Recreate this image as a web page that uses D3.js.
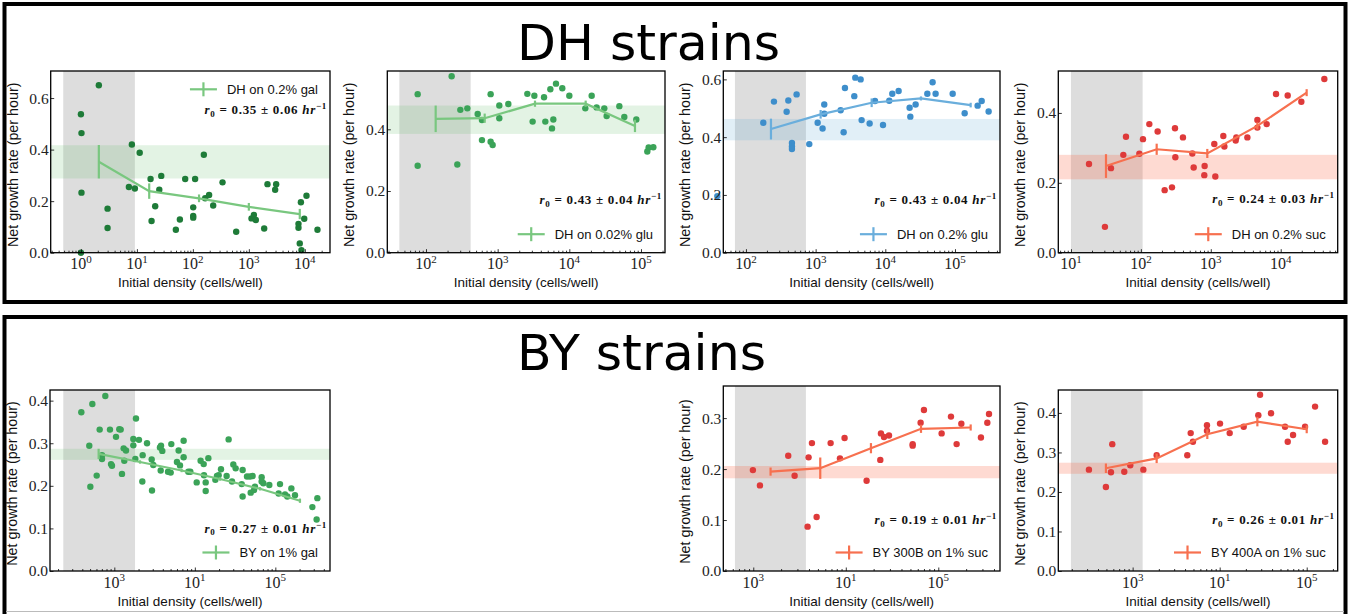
<!DOCTYPE html>
<html><head><meta charset="utf-8">
<script src="https://cdn.jsdelivr.net/npm/d3@7"></script>
<style>body{margin:0;background:#fff}svg{display:block}</style>
</head><body><svg id="c" width="1350" height="614"></svg>
<script>
// ---------------- DATA ----------------
const sectionTitles = ["DH strains", "BY strains"];
const panelLabels = ["DH on 0.2% gal", "DH on 0.02% glu", "DH on 0.2% glu", "DH on 0.2% suc",
  "BY on 1% gal", "BY 300B on 1% suc", "BY 400A on 1% suc"];
const r0Values = [0.35, 0.43, 0.43, 0.24, 0.27, 0.19, 0.26];
const r0Errors = [0.06, 0.04, 0.04, 0.03, 0.01, 0.01, 0.01];
const yAxisLabel = "Net growth rate (per hour)";
const xAxisLabel = "Initial density (cells/well)";

// x ranges given as log10(density)
const xDomainsLog = [[-0.54, 4.45], [1.46, 5.335], [1.675, 5.646], [0.819, 4.815], [2.201, 5.679], [2.676, 5.667], [2.146, 5.356]];
const yMax = [0.705, 0.589, 0.629, 0.52, 0.425, 0.363, 0.458];
const grayRegionLog = [[-0.316, 0.964], [1.628, 2.623], [1.842, 2.861], [1.0, 2.025], [2.366, 3.257], [2.802, 3.569], [2.291, 3.115]];
const bandLow = [0.288, 0.385, 0.389, 0.21, 0.261, 0.182, 0.246];
const bandHigh = [0.417, 0.477, 0.463, 0.28, 0.287, 0.206, 0.274];

const yTicks = [[0, 0.2, 0.4, 0.6], [0, 0.2, 0.4], [0, 0.2, 0.4, 0.6], [0, 0.2, 0.4],
  [0, 0.1, 0.2, 0.3, 0.4], [0, 0.1, 0.2, 0.3], [0, 0.1, 0.2, 0.3, 0.4]];
const xTickDecades = [[0, 1, 2, 3, 4], [2, 3, 4, 5], [2, 3, 4, 5], [1, 2, 3, 4], [3, 4, 5], [3, 4, 5], [3, 4, 5]];
const xTickExponentLabels = [["0", "1", "2", "3", "4"], ["2", "3", "4", "5"], ["2", "3", "4", "5"], ["1", "2", "3", "4"],
  ["3", "1", "5"], ["3", "1", "5"], ["3", "1", "5"]];

// scatter points: log10(density), growth rate
const dhGalLogX = [0.32,0.0,0.01,0.01,0.0,0.476,0.476,0.91,1.05,0.857,0.964,1.244,1.435,1.40,1.327,1.262,1.696,1.768,1.863,2.04,2.006,2.006,2.006,2.196,2.22,2.29,2.363,2.53,2.774,3.048,3.09,3.125,3.274,3.333,3.488,3.47,3.887,3.887,3.93,3.91,3.94,3.99,4.03,4.226];
const dhGalY = [0.65,0.537,0.464,0.233,0.0,0.171,0.096,0.42,0.388,0.255,0.249,0.286,0.298,0.244,0.18,0.123,0.089,0.129,0.286,0.286,0.176,0.143,0.136,0.38,0.211,0.224,0.183,0.273,0.081,0.133,0.146,0.127,0.094,0.266,0.266,0.244,0.112,0.097,0.196,0.036,0.01,0.132,0.221,0.089];

const dhGlu002LogX = [1.884,1.884,2.358,2.437,2.479,2.577,2.721,2.781,2.781,2.902,2.93,2.902,3.023,3.023,3.149,3.414,3.488,3.512,3.647,3.665,3.735,3.758,3.777,3.814,3.902,4.0,4.223,4.312,4.381,4.488,4.521,4.698,4.767,4.935,5.088,5.107,5.172];
const dhGlu002Y = [0.514,0.282,0.572,0.286,0.463,0.468,0.45,0.43,0.365,0.36,0.349,0.514,0.477,0.436,0.482,0.515,0.425,0.509,0.504,0.425,0.53,0.403,0.432,0.548,0.533,0.509,0.468,0.509,0.471,0.468,0.443,0.475,0.44,0.432,0.328,0.341,0.342];

const dhGlu02LogX = [1.589,2.249,2.402,2.584,2.608,2.66,2.66,2.66,2.727,2.909,3.029,3.1,3.124,3.124,3.359,3.402,3.421,3.555,3.569,3.646,3.66,3.775,3.852,3.967,4.057,4.1,4.191,4.349,4.359,4.435,4.603,4.679,4.722,4.967,5.139,5.325,5.383,5.483];
const dhGlu02Y = [0.196,0.45,0.523,0.488,0.527,0.38,0.368,0.359,0.548,0.376,0.45,0.43,0.513,0.481,0.493,0.417,0.57,0.542,0.606,0.6,0.459,0.447,0.525,0.442,0.526,0.55,0.56,0.502,0.471,0.513,0.55,0.59,0.55,0.55,0.483,0.509,0.525,0.489];

const dhSucLogX = [1.258,1.486,1.572,1.749,1.787,1.978,2.03,2.121,2.24,2.34,2.445,2.488,2.493,2.602,2.736,2.755,2.912,2.907,3.065,3.05,3.179,3.194,3.356,3.365,3.523,3.666,3.666,3.799,3.933,4.1,4.295,4.624];
const dhSucY = [0.254,0.074,0.242,0.28,0.332,0.283,0.325,0.368,0.347,0.179,0.187,0.356,0.273,0.33,0.284,0.244,0.248,0.222,0.218,0.311,0.334,0.304,0.321,0.33,0.33,0.38,0.358,0.368,0.454,0.45,0.432,0.497];

const byGalLogX = [2.59,2.727,2.888,2.689,2.818,2.946,3.062,3.079,3.021,2.781,2.702,2.847,2.847,2.959,2.971,3.095,3.116,3.145,3.124,3.236,3.269,3.236,3.261,3.306,3.352,3.348,3.406,3.464,3.468,3.484,3.567,3.58,3.596,3.576,3.667,3.708,3.7,3.778,3.799,3.816,3.861,3.861,3.919,3.944,4.023,4.072,4.11,4.114,4.135,4.168,4.135,4.255,4.275,4.296,4.325,4.395,4.42,4.462,4.478,4.507,4.582,4.594,4.648,4.685,4.694,4.718,4.735,4.747,4.83,4.851,4.925,5.058,5.041,5.12,5.149,5.199,5.244,5.46,5.513,5.522,4.83,4.594];
const byGalY = [0.3726,0.392,0.411,0.294,0.332,0.332,0.333,0.332,0.315,0.224,0.198,0.272,0.263,0.251,0.247,0.228,0.288,0.283,0.259,0.31,0.358,0.295,0.263,0.308,0.272,0.21,0.3,0.262,0.189,0.249,0.29,0.294,0.282,0.236,0.233,0.298,0.231,0.256,0.283,0.248,0.306,0.267,0.233,0.233,0.208,0.259,0.251,0.225,0.208,0.265,0.188,0.214,0.223,0.225,0.239,0.223,0.309,0.21,0.25,0.241,0.204,0.237,0.222,0.222,0.184,0.223,0.19,0.198,0.22,0.206,0.202,0.204,0.182,0.18,0.175,0.194,0.178,0.15,0.121,0.171,0.21,0.175];

const by300LogX = [2.996,3.072,3.378,3.447,3.587,3.685,3.598,3.634,3.836,3.937,3.987,4.225,4.373,4.38,4.413,4.467,4.723,4.723,4.809,4.845,5.036,5.137,5.198,5.249,5.461,5.53,5.548];
const by300Y = [0.198,0.168,0.226,0.187,0.087,0.106,0.223,0.251,0.251,0.221,0.261,0.177,0.218,0.27,0.263,0.266,0.249,0.246,0.291,0.316,0.27,0.303,0.249,0.289,0.262,0.291,0.308];

const by400LogX = [2.498,2.693,2.751,2.766,2.904,2.973,3.123,3.276,3.628,3.667,3.693,3.854,3.854,4.004,4.115,4.276,4.444,4.464,4.59,4.751,4.782,4.843,4.981,5.096,5.211];
const by400Y = [0.2565,0.2127,0.25,0.321,0.251,0.2675,0.2565,0.293,0.293,0.349,0.327,0.369,0.355,0.373,0.349,0.365,0.394,0.446,0.399,0.365,0.327,0.344,0.365,0.416,0.327];

// binned means with error bars: log10(density), mean, error
const fitLogX = [[0.32,1.22,2.11,3.0,3.91],[2.135,2.819,3.521,4.228,4.916],[2.359,3.072,3.804,4.512,5.225],[1.501,2.226,2.95,3.666,4.371],
  [2.805,3.319,3.836,4.313,4.81,5.306],[3.187,3.724,4.272,4.813,5.35],[2.693,3.276,3.858,4.433,5.0]];
const fitY = [[0.353,0.239,0.211,0.178,0.150],[0.434,0.436,0.483,0.483,0.411],[0.428,0.479,0.519,0.534,0.511],[0.248,0.296,0.284,0.363,0.458],
  [0.275,0.256,0.236,0.216,0.193,0.165],[0.195,0.2017,0.241,0.279,0.2816],[0.26,0.285,0.346,0.378,0.3586]];
const fitErr = [[0.065,0.03,0.015,0.015,0.02],[0.043,0.015,0.01,0.01,0.02],[0.036,0.015,0.015,0.007,0.008],[0.034,0.016,0.013,0.01,0.01],
  [0.012,0.004,0.004,0.004,0.004,0.005],[0.008,0.021,0.01,0.008,0.006],[0.012,0.012,0.012,0.012,0.01]];

const pointsLogX = [dhGalLogX, dhGlu002LogX, dhGlu02LogX, dhSucLogX, byGalLogX, by300LogX, by400LogX];
const pointsY = [dhGalY, dhGlu002Y, dhGlu02Y, dhSucY, byGalY, by300Y, by400Y];

// ---------------- LAYOUT / STYLE ----------------
const plotBoxes = [[50.7,71,330,252.7],[387.3,71,665,252.7],[723.3,71,1000,252.7],[1058.3,71,1337.7,252.7],
  [50,390,330,571],[723.3,386,1000,571],[1058.3,390,1337.7,571]];
const pointColor = ["#1e7b38","#3ba358","#3e8ecb","#de3a3a","#3ba358","#de3a3a","#de3a3a"];
const lineColor = ["#79c77f","#79c77f","#6aaedc","#f7704f","#79c77f","#f7704f","#f7704f"];
const bandColor = ["#74c476","#74c476","#6baed6","#fb6a4a","#74c476","#fb6a4a","#fb6a4a"];
const bandOpacity = [0.2,0.2,0.2,0.25,0.2,0.25,0.25];
const legendTop = [true,false,false,false,false,false,false];
const r0Offset = [0,48.5,48.5,49.5,38.5,47,47];

const svg = d3.select("#c");
const sans = "'Liberation Sans', Arial, sans-serif";
const serif = "'Liberation Serif', 'Times New Roman', serif";

svg.append("rect").attr("x",4.5).attr("y",4).attr("width",1341).attr("height",298)
  .attr("fill","none").attr("stroke","#000").attr("stroke-width",4);
svg.append("rect").attr("x",4.5).attr("y",317).attr("width",1341).attr("height",320)
  .attr("fill","none").attr("stroke","#000").attr("stroke-width",4);
svg.append("line").attr("x1",6).attr("x2",1344).attr("y1",611.5).attr("y2",611.5).attr("stroke","#bbb").attr("stroke-width",1);

const titleY = [60, 370];
sectionTitles.forEach((t,i)=>{
  svg.append("text").attr("x",517).attr("y",titleY[i]).attr("font-family","'DejaVu Sans', sans-serif")
    .attr("font-size",50.5).attr("fill","#000").text(t);
});

function drawPanel(i){
  const [L,T,R,B] = plotBoxes[i];
  const g = svg.append("g");
  const x = d3.scaleLog().domain([10**xDomainsLog[i][0], 10**xDomainsLog[i][1]]).range([L,R]);
  const y = d3.scaleLinear().domain([0, yMax[i]]).range([B,T]);
  const cid = "clip"+i;
  svg.append("clipPath").attr("id",cid).append("rect").attr("x",L).attr("y",T).attr("width",R-L).attr("height",B-T);
  const pg = g.append("g").attr("clip-path",`url(#${cid})`);
  pg.append("rect").attr("x",x(10**grayRegionLog[i][0])).attr("y",T)
    .attr("width",x(10**grayRegionLog[i][1])-x(10**grayRegionLog[i][0])).attr("height",B-T)
    .attr("fill","#808080").attr("opacity",0.27);
  pg.append("rect").attr("x",L).attr("width",R-L).attr("y",y(bandHigh[i])).attr("height",y(bandLow[i])-y(bandHigh[i]))
    .attr("fill",bandColor[i]).attr("opacity",bandOpacity[i]);
  const pts = pointsLogX[i].map((v,k)=>({x:10**v, y:pointsY[i][k]}));
  g.append("g").selectAll("circle").data(pts).join("circle")
    .attr("cx",d=>x(d.x)).attr("cy",d=>y(d.y)).attr("r",3.2).attr("fill",pointColor[i]);
  const fit = fitLogX[i].map((v,k)=>({x:10**v, y:fitY[i][k], e:fitErr[i][k]}));
  g.append("path").datum(fit).attr("d",d3.line().x(d=>x(d.x)).y(d=>y(d.y)))
    .attr("fill","none").attr("stroke",lineColor[i]).attr("stroke-width",2.2);
  g.append("g").selectAll("line").data(fit).join("line")
    .attr("x1",d=>x(d.x)).attr("x2",d=>x(d.x)).attr("y1",d=>y(d.y-d.e)).attr("y2",d=>y(d.y+d.e))
    .attr("stroke",lineColor[i]).attr("stroke-width",2.2);
  const ya = g.append("g").attr("transform",`translate(${L},0)`)
    .call(d3.axisLeft(y).tickValues(yTicks[i]).tickFormat(d3.format(".1f")).tickSize(-3.5).tickPadding(2));
  ya.select(".domain").remove();
  ya.selectAll("text").attr("font-family",serif).attr("font-size",15.5).attr("fill","#222");
  ya.selectAll("line").attr("stroke","#000");
  const majors = xTickDecades[i].map(d=>10**d);
  const minors = [];
  for(let dd=Math.floor(xDomainsLog[i][0]); dd<=Math.ceil(xDomainsLog[i][1]); dd++){
    for(let m=2;m<=9;m++){ const v=m*10**dd; if(v>=x.domain()[0] && v<=x.domain()[1]) minors.push(v); }
  }
  const xa = g.append("g").attr("transform",`translate(0,${B})`)
    .call(d3.axisBottom(x).tickValues(majors).tickFormat("").tickSize(-3.5));
  xa.select(".domain").remove();
  const xm = g.append("g").attr("transform",`translate(0,${B})`)
    .call(d3.axisBottom(x).tickValues(minors).tickFormat("").tickSize(-2));
  xm.select(".domain").remove();
  g.selectAll(".tick line").attr("stroke","#000").attr("stroke-width",0.8);
  const lbl = g.append("g").selectAll("text").data(majors).join("text")
    .attr("x",d=>x(d)).attr("y",B+16.5).attr("text-anchor","middle")
    .attr("font-family",serif).attr("font-size",16).attr("fill","#222");
  lbl.append("tspan").text("10");
  lbl.append("tspan").attr("dy",-6.5).attr("font-size",11).text((d,k)=>xTickExponentLabels[i][k]);
  g.append("rect").attr("x",L).attr("y",T).attr("width",R-L).attr("height",B-T)
    .attr("fill","none").attr("stroke","#000").attr("stroke-width",1.3);
  g.append("text").attr("x",(L+R)/2).attr("y",B+34.5).attr("text-anchor","middle")
    .attr("font-family",sans).attr("font-size",13.5).attr("fill","#111").text(xAxisLabel);
  g.append("text").attr("transform",`translate(${L-33},${(T+B)/2+3}) rotate(-90)`).attr("text-anchor","middle")
    .attr("font-family",sans).attr("font-size",14.3).attr("fill","#111").text(yAxisLabel);
  const legY = legendTop[i] ? T+18.3 : B-18.5;
  const lt = g.append("text").attr("x",R-12).attr("y",legY+4.5).attr("text-anchor","end")
    .attr("font-family",sans).attr("font-size",13).attr("fill","#111").text(panelLabels[i]);
  const tw = lt.node().getComputedTextLength();
  const x0 = R-12-tw-10;
  g.append("line").attr("x1",x0-27).attr("x2",x0).attr("y1",legY).attr("y2",legY)
    .attr("stroke",lineColor[i]).attr("stroke-width",2.2);
  g.append("line").attr("x1",x0-13.5).attr("x2",x0-13.5).attr("y1",legY-7).attr("y2",legY+7)
    .attr("stroke",lineColor[i]).attr("stroke-width",2.2);
  const r0y = legendTop[i] ? T+43 : B-r0Offset[i];
  const rt = g.append("text").attr("x",R-3).attr("y",r0y).attr("text-anchor","end")
    .attr("font-family",serif).attr("font-size",13).attr("font-weight","bold")
    .attr("letter-spacing",0.7).attr("fill","#111");
  rt.append("tspan").attr("font-style","italic").text("r");
  rt.append("tspan").attr("font-size",9).attr("dy",2.5).text("0");
  rt.append("tspan").attr("dy",-2.5).text(` = ${r0Values[i].toFixed(2)} \u00b1 ${r0Errors[i].toFixed(2)} `);
  rt.append("tspan").attr("font-style","italic").text("hr");
  rt.append("tspan").attr("font-size",9).attr("dy",-5).text("\u22121");
}
for(let i=0;i<7;i++) drawPanel(i);
</script></body></html>
